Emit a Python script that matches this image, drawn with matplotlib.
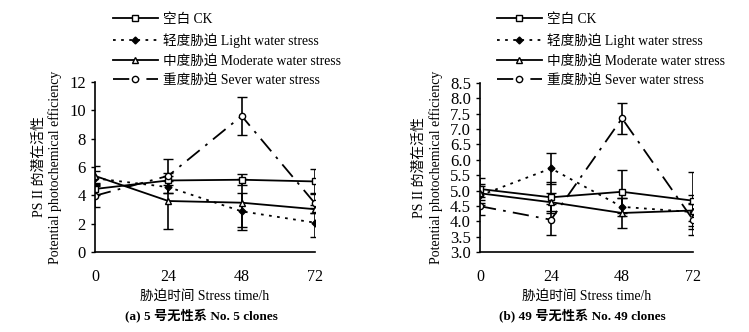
import matplotlib
matplotlib.use("Agg")
import matplotlib.pyplot as plt
from matplotlib.lines import Line2D
import numpy as np

plt.rcParams['font.family'] = ['Liberation Serif', 'Noto Sans CJK SC']
plt.rcParams['font.size'] = 10

hours = [0, 24, 48, 72]
labels = ["空白 CK", "轻度胁迫 Light water stress",
          "中度胁迫 Moderate water stress", "重度胁迫 Sever water stress"]

# (a) No. 5 clones
a_ck = [4.45, 5.05, 5.1, 4.98]
a_light = [5.2, 4.58, 2.87, 2.07]
a_mod = [5.37, 3.6, 3.48, 3.02]
a_sev = [3.97, 5.38, 9.6, 3.43]
a_ck_err = [0.4, 0.3, 0.4, 0.9]
a_light_err = [0.5, 0.4, 1.3, 1.02]
a_mod_err = [0.7, 1.95, 1.7, 0.3]
a_sev_err = [0.8, 1.2, 1.35, 0.7]

# (b) No. 49 clones
b_ck = [5.05, 4.78, 4.96, 4.67]
b_light = [4.84, 5.72, 4.47, 4.3]
b_mod = [4.91, 4.62, 4.27, 4.35]
b_sev = [4.49, 4.05, 7.35, 4.05]
b_ck_err = [0.35, 0.5, 0.7, 0.93]
b_light_err = [0.3, 0.5, 0.3, 0.3]
b_mod_err = [0.3, 0.3, 0.48, 0.5]
b_sev_err = [0.3, 0.5, 0.5, 0.5]

styles = [
    dict(ls='-', marker='s', mfc='white', ms=4.5),
    dict(ls=(0, (1.5, 3)), marker='D', mfc='black', ms=3.5),
    dict(ls='-', marker='^', mfc='white', ms=4.5),
    dict(ls=(0, (9, 4, 1.5, 4)), marker='o', mfc='white', ms=4.5),
]

fig = plt.figure(figsize=(7.49, 3.32), dpi=100)
ax1 = fig.add_axes([95 / 749, 1 - 252 / 332, 220 / 749, 170 / 332])
ax2 = fig.add_axes([480 / 749, 1 - 252 / 332, 213 / 749, 169 / 332])


def draw(ax, series, errs, ylim, yticks, fmt, leg_x):
    for y, e, st in zip(series, errs, styles):
        ax.errorbar(hours, y, yerr=e, color='black', lw=1.3, mec='black',
                    mew=1.0, capsize=3.5, elinewidth=1.2, capthick=1.2, **st)
    ax.set_xlim(0, 72)
    ax.set_ylim(*ylim)
    ax.set_xticks(hours)
    ax.set_yticks(yticks)
    ax.set_yticklabels([fmt.format(v) for v in yticks])
    ax.spines['top'].set_visible(False)
    ax.spines['right'].set_visible(False)
    for s in ['left', 'bottom']:
        ax.spines[s].set_linewidth(1.2)
    ax.tick_params(axis='x', length=0, pad=12, labelsize=11.5)
    ax.tick_params(axis='y', direction='out', length=3, width=1.0, labelsize=12)
    ax.set_ylabel("PS II 的潜在活性\nPotential photochemical efficiency",
                  fontsize=10, linespacing=1.3, labelpad=5)
    ax.set_xlabel("胁迫时间 Stress time/h", fontsize=9.8, labelpad=4)
    handles = [Line2D([], [], color='black', lw=1.3, mec='black', mew=1.0, **st)
               for st in styles]
    fig.legend(handles, labels, loc='upper left',
               bbox_to_anchor=(leg_x / 749, 1 - 13 / 332), frameon=False,
               handlelength=3.3, handletextpad=0.4, labelspacing=0.5,
               borderpad=0, borderaxespad=0, fontsize=9.8)


draw(ax1, [a_ck, a_light, a_mod, a_sev],
     [a_ck_err, a_light_err, a_mod_err, a_sev_err],
     (0, 12), np.arange(0, 13, 2), "{:.0f}", 113)
draw(ax2, [b_ck, b_light, b_mod, b_sev],
     [b_ck_err, b_light_err, b_mod_err, b_sev_err],
     (3.0, 8.5), np.arange(3.0, 8.51, 0.5), "{:.1f}", 497)

fig.text(201 / 749, 1 - 315 / 332, "(a) 5 号无性系 No. 5 clones",
         ha='center', va='center', fontsize=9.5, fontweight='bold')
fig.text(582 / 749, 1 - 315 / 332, "(b) 49 号无性系 No. 49 clones",
         ha='center', va='center', fontsize=9.5, fontweight='bold')

fig.savefig("out.png", dpi=100)
